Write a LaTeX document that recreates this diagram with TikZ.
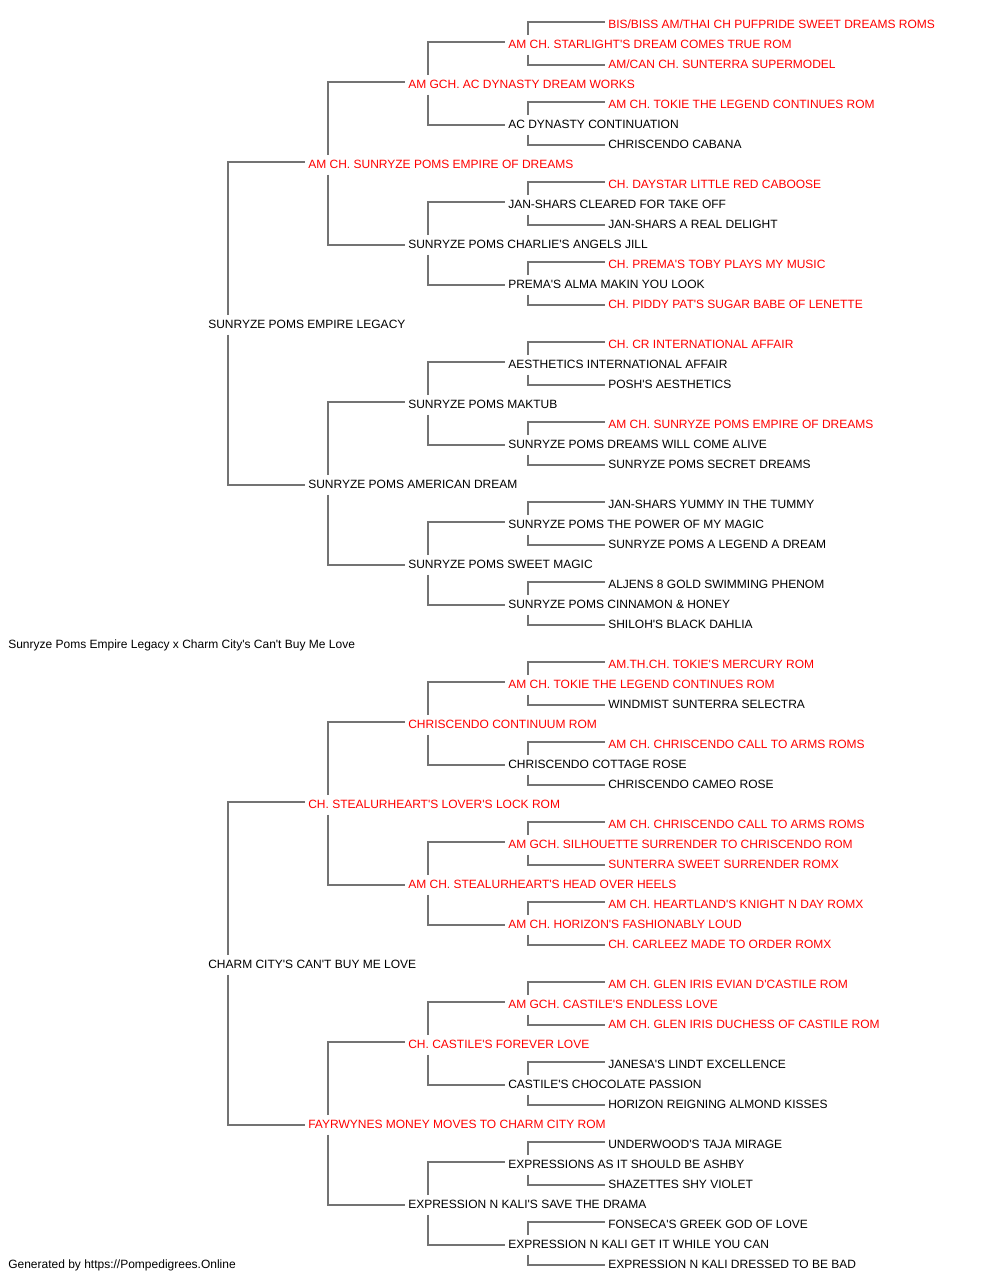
\documentclass[tikz,border=0pt]{standalone}
\usepackage{fontspec}
\setmainfont{Liberation Sans}[Ligatures=TeXOff]
\definecolor{pedred}{HTML}{FF0000}
\definecolor{linegray}{HTML}{737373}
\tikzset{
  lbl/.style={anchor=base west, inner xsep=0pt, inner ysep=3.5pt, text height=6.45pt, text depth=1.1pt, font=\fontsize{9pt}{11pt}\selectfont, text=black},
  rd/.style={lbl, text=pedred},
  bk/.style={lbl},
  link/.style={draw=linegray, line width=1.5pt}
}
\begin{document}
\begin{tikzpicture}[x=0.75pt,y=-0.75pt]
\useasboundingbox (0,0) rectangle (1000,1280);
% row i: y = 24 + 20 i, baseline = y + 4.3
\node[rd] (r0) at (608,28.3) {BIS/BISS AM/THAI CH PUFPRIDE SWEET DREAMS ROMS};
\node[rd] (r1) at (508,48.3) {AM CH. STARLIGHT'S DREAM COMES TRUE ROM};
\node[rd] (r2) at (608,68.3) {AM/CAN CH. SUNTERRA SUPERMODEL};
\node[rd] (r3) at (408,88.3) {AM GCH. AC DYNASTY DREAM WORKS};
\node[rd] (r4) at (608,108.3) {AM CH. TOKIE THE LEGEND CONTINUES ROM};
\node[bk] (r5) at (508,128.3) {AC DYNASTY CONTINUATION};
\node[bk] (r6) at (608,148.3) {CHRISCENDO CABANA};
\node[rd] (r7) at (308,168.3) {AM CH. SUNRYZE POMS EMPIRE OF DREAMS};
\node[rd] (r8) at (608,188.3) {CH. DAYSTAR LITTLE RED CABOOSE};
\node[bk] (r9) at (508,208.3) {JAN-SHARS CLEARED FOR TAKE OFF};
\node[bk] (r10) at (608,228.3) {JAN-SHARS A REAL DELIGHT};
\node[bk] (r11) at (408,248.3) {SUNRYZE POMS CHARLIE'S ANGELS JILL};
\node[rd] (r12) at (608,268.3) {CH. PREMA'S TOBY PLAYS MY MUSIC};
\node[bk] (r13) at (508,288.3) {PREMA'S ALMA MAKIN YOU LOOK};
\node[rd] (r14) at (608,308.3) {CH. PIDDY PAT'S SUGAR BABE OF LENETTE};
\node[bk] (r15) at (208,328.3) {SUNRYZE POMS EMPIRE LEGACY};
\node[rd] (r16) at (608,348.3) {CH. CR INTERNATIONAL AFFAIR};
\node[bk] (r17) at (508,368.3) {AESTHETICS INTERNATIONAL AFFAIR};
\node[bk] (r18) at (608,388.3) {POSH'S AESTHETICS};
\node[bk] (r19) at (408,408.3) {SUNRYZE POMS MAKTUB};
\node[rd] (r20) at (608,428.3) {AM CH. SUNRYZE POMS EMPIRE OF DREAMS};
\node[bk] (r21) at (508,448.3) {SUNRYZE POMS DREAMS WILL COME ALIVE};
\node[bk] (r22) at (608,468.3) {SUNRYZE POMS SECRET DREAMS};
\node[bk] (r23) at (308,488.3) {SUNRYZE POMS AMERICAN DREAM};
\node[bk] (r24) at (608,508.3) {JAN-SHARS YUMMY IN THE TUMMY};
\node[bk] (r25) at (508,528.3) {SUNRYZE POMS THE POWER OF MY MAGIC};
\node[bk] (r26) at (608,548.3) {SUNRYZE POMS A LEGEND A DREAM};
\node[bk] (r27) at (408,568.3) {SUNRYZE POMS SWEET MAGIC};
\node[bk] (r28) at (608,588.3) {ALJENS 8 GOLD SWIMMING PHENOM};
\node[bk] (r29) at (508,608.3) {SUNRYZE POMS CINNAMON \& HONEY};
\node[bk] (r30) at (608,628.3) {SHILOH'S BLACK DAHLIA};
\node[bk] (title) at (8,648.3) {Sunryze Poms Empire Legacy x Charm City's Can't Buy Me Love};
\node[rd] (r32) at (608,668.3) {AM.TH.CH. TOKIE'S MERCURY ROM};
\node[rd] (r33) at (508,688.3) {AM CH. TOKIE THE LEGEND CONTINUES ROM};
\node[bk] (r34) at (608,708.3) {WINDMIST SUNTERRA SELECTRA};
\node[rd] (r35) at (408,728.3) {CHRISCENDO CONTINUUM ROM};
\node[rd] (r36) at (608,748.3) {AM CH. CHRISCENDO CALL TO ARMS ROMS};
\node[bk] (r37) at (508,768.3) {CHRISCENDO COTTAGE ROSE};
\node[bk] (r38) at (608,788.3) {CHRISCENDO CAMEO ROSE};
\node[rd] (r39) at (308,808.3) {CH. STEALURHEART'S LOVER'S LOCK ROM};
\node[rd] (r40) at (608,828.3) {AM CH. CHRISCENDO CALL TO ARMS ROMS};
\node[rd] (r41) at (508,848.3) {AM GCH. SILHOUETTE SURRENDER TO CHRISCENDO ROM};
\node[rd] (r42) at (608,868.3) {SUNTERRA SWEET SURRENDER ROMX};
\node[rd] (r43) at (408,888.3) {AM CH. STEALURHEART'S HEAD OVER HEELS};
\node[rd] (r44) at (608,908.3) {AM CH. HEARTLAND'S KNIGHT N DAY ROMX};
\node[rd] (r45) at (508,928.3) {AM CH. HORIZON'S FASHIONABLY LOUD};
\node[rd] (r46) at (608,948.3) {CH. CARLEEZ MADE TO ORDER ROMX};
\node[bk] (r47) at (208,968.3) {CHARM CITY'S CAN'T BUY ME LOVE};
\node[rd] (r48) at (608,988.3) {AM CH. GLEN IRIS EVIAN D'CASTILE ROM};
\node[rd] (r49) at (508,1008.3) {AM GCH. CASTILE'S ENDLESS LOVE};
\node[rd] (r50) at (608,1028.3) {AM CH. GLEN IRIS DUCHESS OF CASTILE ROM};
\node[rd] (r51) at (408,1048.3) {CH. CASTILE'S FOREVER LOVE};
\node[bk] (r52) at (608,1068.3) {JANESA'S LINDT EXCELLENCE};
\node[bk] (r53) at (508,1088.3) {CASTILE'S CHOCOLATE PASSION};
\node[bk] (r54) at (608,1108.3) {HORIZON REIGNING ALMOND KISSES};
\node[rd] (r55) at (308,1128.3) {FAYRWYNES MONEY MOVES TO CHARM CITY ROM};
\node[bk] (r56) at (608,1148.3) {UNDERWOOD'S TAJA MIRAGE};
\node[bk] (r57) at (508,1168.3) {EXPRESSIONS AS IT SHOULD BE ASHBY};
\node[bk] (r58) at (608,1188.3) {SHAZETTES SHY VIOLET};
\node[bk] (r59) at (408,1208.3) {EXPRESSION N KALI'S SAVE THE DRAMA};
\node[bk] (r60) at (608,1228.3) {FONSECA'S GREEK GOD OF LOVE};
\node[bk] (r61) at (508,1248.3) {EXPRESSION N KALI GET IT WHILE YOU CAN};
\node[bk] (r62) at (608,1268.3) {EXPRESSION N KALI DRESSED TO BE BAD};
\node[bk] (footer) at (8,1268.3) {Generated by https://Pompedigrees.Online};
% connectors: parent / top child / bottom child
\foreach \p/\a/\b in {
  15/7/23, 47/39/55,
  7/3/11, 23/19/27, 39/35/43, 55/51/59,
  3/1/5, 11/9/13, 19/17/21, 27/25/29, 35/33/37, 43/41/45, 51/49/53, 59/57/61,
  1/0/2, 5/4/6, 9/8/10, 13/12/14, 17/16/18, 21/20/22, 25/24/26, 29/28/30,
  33/32/34, 37/36/38, 41/40/42, 45/44/46, 49/48/50, 53/52/54, 57/56/58, 61/60/62} {
  \draw[link] ([xshift=15pt]r\p.north west) |- ([xshift=-2.25pt,yshift=2pt]r\a.west);
  \draw[link] ([xshift=15pt]r\p.south west) |- ([xshift=-2.25pt]r\b.west);
}
\end{tikzpicture}
\end{document}
